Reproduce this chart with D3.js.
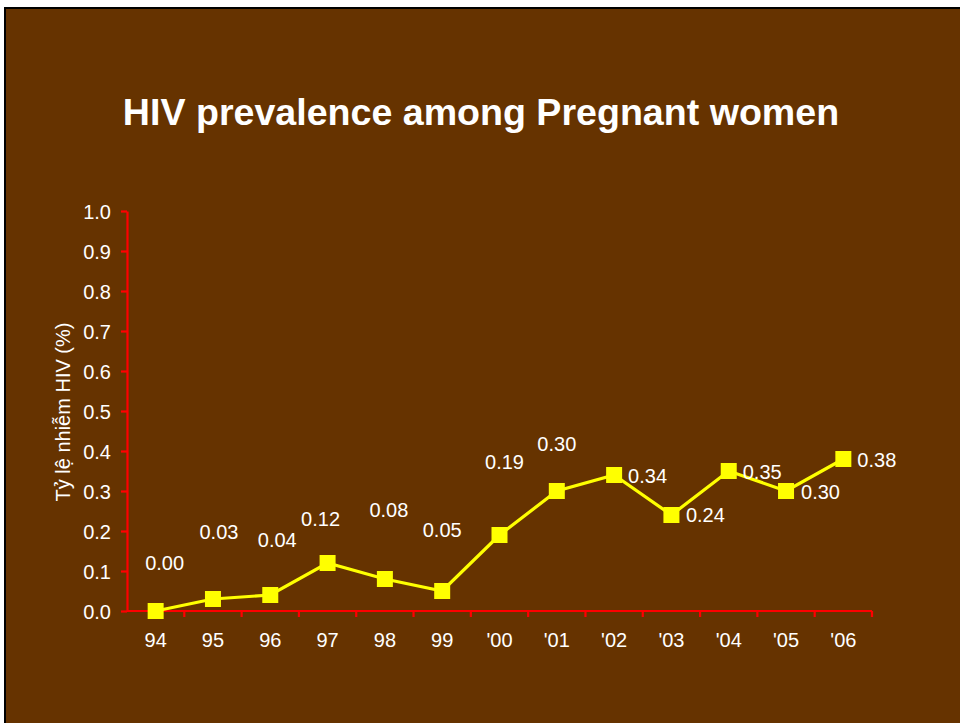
<!DOCTYPE html>
<html>
<head>
<meta charset="utf-8">
<script src="https://cdn.jsdelivr.net/npm/d3@7"></script>
<style>
html,body{margin:0;padding:0;background:#fff;}
svg{display:block;font-family:"Liberation Sans",Arial,sans-serif;}
</style>
</head>
<body>
<svg id="chart" width="960" height="723"></svg>
<script>
// ---- data ----
const years = ["94","95","96","97","98","99","'00","'01","'02","'03","'04","'05","'06"];
const prevalence = [0.00,0.03,0.04,0.12,0.08,0.05,0.19,0.30,0.34,0.24,0.35,0.30,0.38];
const valueLabels = ["0.00","0.03","0.04","0.12","0.08","0.05","0.19","0.30","0.34","0.24","0.35","0.30","0.38"];
const yTicks = [0,0.1,0.2,0.3,0.4,0.5,0.6,0.7,0.8,0.9,1.0];
const title = "HIV prevalence among Pregnant women";
const yTitle = "Tỷ lệ nhiễm HIV (%)";
// label placement (offsets from the point, in px)
const labelDx = [9,6,7,-7,4,0,5,0,14,14.5,14,15,14];
const labelDy = [-41,-60,-48,-37,-62,-54,-66,-40,8,7,8,8,8];
const labelAnchor = ["middle","middle","middle","middle","middle","middle","middle","middle","start","start","start","start","start"];

const svg = d3.select("#chart");
const W = 960, H = 723;

// background
svg.append("rect").attr("x",0).attr("y",0).attr("width",W).attr("height",H).attr("fill","#ffffff");
svg.append("rect").attr("x",4).attr("y",7).attr("width",W).attr("height",H).attr("fill","#000000");
svg.append("rect").attr("x",6).attr("y",9).attr("width",W).attr("height",H).attr("fill","#663300");

// title
svg.append("text").attr("x",481).attr("y",125).attr("text-anchor","middle")
  .attr("font-size",37.6).attr("font-weight","bold").attr("fill","#ffffff").text(title);

const x0 = 127, x1 = 872, yTop = 211, yBot = 611;
const x = d3.scaleBand().domain(years).range([x0,x1]);
const y = d3.scaleLinear().domain([0,1]).range([yBot,yTop]);

// y axis
const yAxis = svg.append("g").attr("transform",`translate(${x0},0)`)
  .call(d3.axisLeft(y).tickValues(yTicks).tickFormat(d3.format(".1f")).tickSize(6).tickSizeOuter(0).tickPadding(10));
yAxis.select(".domain").attr("stroke","#ff0000").attr("stroke-width",2.2);
yAxis.selectAll(".tick line").attr("stroke","#ff0000").attr("stroke-width",2.2);
yAxis.selectAll(".tick text").attr("fill","#ffffff").attr("font-size",20)
  .attr("font-family","Liberation Sans, Arial, sans-serif").attr("dy","0.36em");

// x axis
const xAxis = svg.append("g").attr("transform",`translate(0,${yBot})`)
  .call(d3.axisBottom(x).tickSize(0).tickPadding(0));
xAxis.select(".domain").attr("stroke","#ff0000").attr("stroke-width",2.2).attr("d",`M${x0},0H${x1}`);
xAxis.selectAll(".tick text").attr("fill","#ffffff").attr("font-size",20)
  .attr("font-family","Liberation Sans, Arial, sans-serif").attr("y",36).attr("dy",0);
// boundary ticks between categories
const bounds = years.map(d=>x(d)+x.bandwidth());
xAxis.selectAll("line.bt").data(bounds).enter().append("line").attr("class","bt")
  .attr("x1",d=>d).attr("x2",d=>d).attr("y1",0).attr("y2",6)
  .attr("stroke","#ff0000").attr("stroke-width",2.2);

// y title
svg.append("text").attr("transform",`translate(70,412) rotate(-90)`).attr("text-anchor","middle")
  .attr("font-size",20).attr("fill","#ffffff").text(yTitle);

// line
const cx = (d,i)=>x(years[i])+x.bandwidth()/2;
const line = d3.line().x((d,i)=>cx(d,i)).y(d=>y(d));
svg.append("path").datum(prevalence).attr("d",line).attr("fill","none")
  .attr("stroke","#ffff00").attr("stroke-width",3.2);

// markers
const s = 16;
svg.selectAll("rect.pt").data(prevalence).enter().append("rect").attr("class","pt")
  .attr("x",(d,i)=>cx(d,i)-s/2).attr("y",d=>y(d)-s/2).attr("width",s).attr("height",s)
  .attr("fill","#ffff00");

// value labels
svg.selectAll("text.vl").data(prevalence).enter().append("text").attr("class","vl")
  .attr("x",(d,i)=>cx(d,i)+labelDx[i]).attr("y",(d,i)=>y(d)+labelDy[i])
  .attr("text-anchor",(d,i)=>labelAnchor[i]).attr("font-size",20).attr("fill","#ffffff")
  .text((d,i)=>valueLabels[i]);
</script>
</body>
</html>
